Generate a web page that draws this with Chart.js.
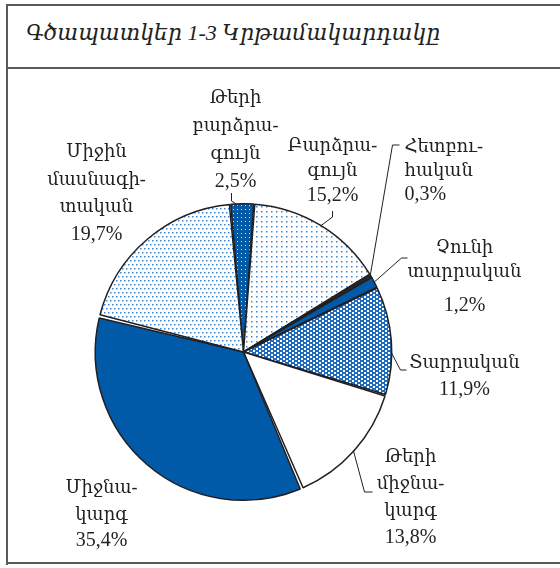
<!DOCTYPE html>
<html>
<head>
<meta charset="utf-8">
<script src="https://cdn.jsdelivr.net/npm/chart.js@4"></script>
<style>
  body { margin: 0; background: #fff; }
  #page { position: relative; width: 560px; height: 568px; overflow: hidden; }
  .ln { position: absolute; background: #5a5a5a; }
  #title {
    position: absolute; left: 26px; top: 20px;
    font: italic 22px "Liberation Serif", "DejaVu Serif", serif;
    color: #222; white-space: nowrap;
  }
  canvas { position: absolute; left: 0; top: 0; }
</style>
</head>
<body>
<div id="page">
  <div class="ln" style="left:6px;top:4px;width:2px;height:561px"></div>
  <div class="ln" style="left:6px;top:4px;width:554px;height:2px"></div>
  <div class="ln" style="left:6px;top:67px;width:554px;height:2px"></div>
  <div class="ln" style="left:6px;top:562px;width:554px;height:2px"></div>
  <div id="title">Գծապատկեր 1-3 Կրթամակարդակը</div>
  <canvas id="myChart" width="560" height="568"></canvas>
</div>
<script>
// categories, clockwise from the top
const categories = [
  ["Թերի", "բարձրա-", "գույն"],
  ["Բարձրա-", "գույն"],
  ["Հետբու-", "հական"],
  ["Չունի", "տարրական"],
  ["Տարրական"],
  ["Թերի", "միջնա-", "կարգ"],
  ["Միջնա-", "կարգ"],
  ["Միջին", "մասնագի-", "տական"],
];
const shares = [2.5, 15.2, 0.3, 1.2, 11.9, 13.8, 35.4, 19.7];

// label placement: offset from pie centre, first baseline, line height, extra gap before value
const labelLayout = [
  { dx: -8, dy: -249, lh: 28, gap: 0, align: "center" },
  { dx: 89, dy: -201, lh: 25, gap: 0, align: "center" },
  { dx: 161, dy: -200, lh: 24, gap: 0, align: "left" },
  { dx: 221, dy: -99, lh: 24, gap: 10, align: "center" },
  { dx: 221, dy: 16, lh: 27, gap: 0, align: "center" },
  { dx: 167, dy: 110, lh: 27, gap: 0, align: "center" },
  { dx: -142, dy: 141, lh: 26.5, gap: 0, align: "center" },
  { dx: -147, dy: -195, lh: 27.5, gap: 0, align: "center" },
];
// leader lines: where on the arc they start (0..1 across the slice) and elbow/end offsets
const leaders = [
  { t: 0.3, pts: [[-12, -151], [-12, -159]] },
  { t: 0.5, pts: [[89, -135], [89, -141]] },
  { t: 0.5, pts: [[149, -207], [156, -207]] },
  { t: 0.5, pts: [[158, -94], [164, -94]] },
  { t: 0.6, pts: [[157, 18], [163, 18]] },
  { t: 0.5, pts: [[121, 140], [129, 140]] },
  null,
  null,
];

const makePattern = (w, h, bg, fg, rects) => {
  const c = document.createElement("canvas");
  c.width = w;
  c.height = h;
  const g = c.getContext("2d");
  g.fillStyle = bg;
  g.fillRect(0, 0, w, h);
  g.fillStyle = fg;
  rects.forEach(([x, y, rw, rh]) => g.fillRect(x, y, rw, rh));
  return g.createPattern(c, "repeat");
};

const blue = "#005aa8";
const lightDots = makePattern(8, 8, "#ffffff", "#3d85cf", [[0, 0, 1.5, 1.5], [4, 0, 1.5, 1.5], [2, 4, 1.5, 1.5], [6, 4, 1.5, 1.5]]);
const gridDots = makePattern(5, 5, "#ffffff", "#3d85cf", [[1, 1, 1.5, 1.5]]);
const darkDots = makePattern(4, 4, blue, "#cfe0f2", [[1, 1, 1, 1]]);
const checks = makePattern(6, 4, "#ffffff", "#1d6cbf", [[0, 0, 4, 2], [3, 2, 4, 2], [-3, 2, 4, 2]]);

const colors = [darkDots, gridDots, "#2b2f36", blue, checks, "#ffffff", blue, lightDots];

const fmt = (v) => v.toFixed(1).replace(".", ",") + "%";

const labelPlugin = {
  id: "pieLabels",
  afterDraw(chart) {
    const ctx = chart.ctx;
    const meta = chart.getDatasetMeta(0);
    ctx.save();
    ctx.fillStyle = "#231f20";
    ctx.strokeStyle = "#231f20";
    ctx.lineWidth = 1;
    meta.data.forEach((arc, i) => {
      const p = arc.getProps(["x", "y", "startAngle", "endAngle", "outerRadius"], true);
      const lay = labelLayout[i];
      const lines = categories[i].concat([fmt(shares[i])]);
      ctx.textAlign = lay.align;
      let y = p.y + lay.dy;
      lines.forEach((s, k) => {
        const isValue = k === lines.length - 1;
        if (isValue) y += lay.gap;
        ctx.font = isValue
          ? '20px "Liberation Serif", serif'
          : '18px "Liberation Serif", "DejaVu Serif", serif';
        ctx.fillText(s, p.x + lay.dx, y);
        y += lay.lh;
      });
      const ld = leaders[i];
      if (ld) {
        const a = p.startAngle + ld.t * (p.endAngle - p.startAngle);
        ctx.beginPath();
        ctx.moveTo(p.x + Math.cos(a) * p.outerRadius, p.y + Math.sin(a) * p.outerRadius);
        ld.pts.forEach(([dx, dy]) => ctx.lineTo(p.x + dx, p.y + dy));
        ctx.stroke();
      }
    });
    ctx.restore();
  },
};

const printChart = () => {
  const ctx = document.getElementById("myChart").getContext("2d");
  new Chart(ctx, {
    type: "pie",
    data: {
      labels: categories.map((c) => c.join(" ")),
      datasets: [
        {
          data: shares,
          backgroundColor: colors,
          borderColor: "#231f20",
          borderWidth: 1.5,
          spacing: 2,
        },
      ],
    },
    options: {
      responsive: false,
      animation: false,
      rotation: -5,
      layout: { padding: { left: 94, top: 203, right: 167, bottom: 67 } },
      plugins: {
        legend: { display: false },
        tooltip: { enabled: false },
      },
    },
    plugins: [labelPlugin],
  });
};

printChart();
</script>
</body>
</html>
